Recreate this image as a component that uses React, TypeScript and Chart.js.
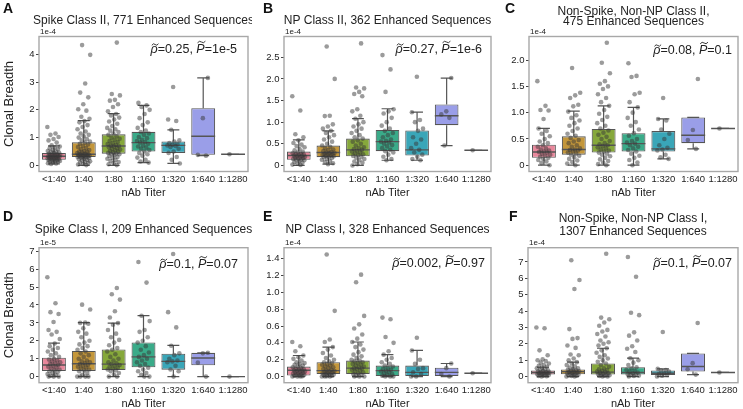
import React, { useEffect, useRef } from 'react';
import { Chart, registerables } from 'chart.js';
Chart.register(...registerables);

const FAM = '"Liberation Sans", Arial, Helvetica, sans-serif';
Chart.defaults.font.family = FAM;

// ---------- shared data ----------
const CATEGORIES = ['<1:40', '1:40', '1:80', '1:160', '1:320', '1:640', '1:1280'];
const Y_TITLE = 'Clonal Breadth';
const X_TITLE = 'nAb Titer';

// ---------- Panel A ----------
const A_TITLE = ['Spike Class II, 771 Enhanced Sequences'];
const A_EXP = '1e-4';
const A_RHO = '0.25';
const A_P = '1e-5';
const A_TICKS = [0, 1, 2, 3, 4];
const A_TICK_LABELS = ['0', '1', '2', '3', '4'];
const A_RANGE = [-0.22, 4.64];
const A_Q1 = [0.2, 0.3, 0.42, 0.5, 0.45, 0.38, 0.4];
const A_MED = [0.33, 0.4, 0.7, 0.82, 0.72, 1.05, 0.4];
const A_Q3 = [0.45, 0.83, 1.12, 1.21, 0.86, 2.06, 0.4];
const A_LO = [0.05, 0.0, 0.0, 0.1, 0.07, 0.35, 0.4];
const A_HI = [0.7, 1.61, 1.86, 2.16, 1.28, 3.15, 0.4];
const A_PTS = [
  [1.38, 1.15, 1.1, 1.02, 0.95, 0.9, 0.82, 0.72, 0.68, 0.65, 0.62, 0.58, 0.55, 0.52, 0.5, 0.48, 0.46, 0.44, 0.42, 0.41, 0.4, 0.38, 0.37, 0.36, 0.35, 0.34, 0.33, 0.32, 0.31, 0.3, 0.29, 0.28, 0.27, 0.26, 0.25, 0.24, 0.23, 0.22, 0.21, 0.2, 0.19, 0.18, 0.16, 0.15, 0.13, 0.12, 0.1, 0.08, 0.07, 0.05],
  [4.33, 3.98, 2.95, 2.62, 2.45, 2.2, 2.02, 1.97, 1.75, 1.68, 1.6, 1.55, 1.45, 1.38, 1.3, 1.22, 1.15, 1.1, 1.05, 1.0, 0.95, 0.9, 0.86, 0.82, 0.78, 0.75, 0.7, 0.66, 0.62, 0.58, 0.55, 0.52, 0.5, 0.48, 0.46, 0.44, 0.42, 0.41, 0.4, 0.39, 0.38, 0.37, 0.36, 0.35, 0.34, 0.33, 0.32, 0.31, 0.3, 0.29, 0.28, 0.26, 0.24, 0.22, 0.2, 0.18, 0.15, 0.12, 0.1, 0.08, 0.05, 0.03, 0.01],
  [4.42, 2.57, 2.52, 2.36, 2.33, 2.2, 2.1, 1.95, 1.85, 1.8, 1.72, 1.65, 1.58, 1.5, 1.42, 1.35, 1.3, 1.25, 1.2, 1.15, 1.1, 1.05, 1.0, 0.96, 0.92, 0.88, 0.84, 0.8, 0.77, 0.74, 0.71, 0.7, 0.68, 0.65, 0.62, 0.6, 0.57, 0.54, 0.52, 0.5, 0.47, 0.45, 0.43, 0.42, 0.4, 0.37, 0.34, 0.3, 0.27, 0.24, 0.2, 0.16, 0.12, 0.08, 0.04, 0.01],
  [2.25, 2.16, 2.1, 2.0, 1.85, 1.7, 1.55, 1.45, 1.35, 1.25, 1.2, 1.15, 1.1, 1.02, 0.98, 0.92, 0.88, 0.84, 0.82, 0.78, 0.72, 0.68, 0.64, 0.6, 0.55, 0.5, 0.45, 0.4, 0.35, 0.28, 0.2, 0.14, 0.1],
  [2.82, 1.65, 1.6, 1.28, 0.9, 0.86, 0.8, 0.76, 0.74, 0.72, 0.7, 0.66, 0.6, 0.5, 0.45, 0.3, 0.2, 0.07],
  [3.15, 1.7, 0.38, 0.35],
  [0.4],
];

// ---------- Panel B ----------
const B_TITLE = ['NP Class II, 362 Enhanced Sequences'];
const B_EXP = '1e-4';
const B_RHO = '0.27';
const B_P = '1e-6';
const B_TICKS = [0, 0.5, 1, 1.5, 2, 2.5];
const B_TICK_LABELS = ['0', '0.5', '1.0', '1.5', '2.0', '2.5'];
const B_RANGE = [-0.14, 2.98];
const B_Q1 = [0.13, 0.19, 0.21, 0.33, 0.23, 0.93, 0.35];
const B_MED = [0.23, 0.3, 0.36, 0.55, 0.36, 1.15, 0.35];
const B_Q3 = [0.32, 0.46, 0.62, 0.82, 0.81, 1.41, 0.35];
const B_LO = [0.0, 0.03, 0.0, 0.12, 0.12, 0.46, 0.35];
const B_HI = [0.59, 0.8, 1.08, 1.31, 1.23, 2.02, 0.35];
const B_PTS = [
  [1.6, 1.27, 0.72, 0.65, 0.58, 0.52, 0.48, 0.45, 0.42, 0.38, 0.35, 0.32, 0.3, 0.28, 0.27, 0.26, 0.25, 0.24, 0.23, 0.22, 0.21, 0.2, 0.19, 0.18, 0.17, 0.16, 0.15, 0.14, 0.13, 0.12, 0.1, 0.08, 0.06, 0.04, 0.02, 0.01],
  [2.75, 2.0, 1.15, 1.14, 0.95, 0.9, 0.85, 0.8, 0.75, 0.7, 0.65, 0.6, 0.55, 0.5, 0.46, 0.43, 0.4, 0.37, 0.35, 0.33, 0.31, 0.3, 0.29, 0.28, 0.27, 0.26, 0.25, 0.24, 0.23, 0.22, 0.21, 0.2, 0.19, 0.17, 0.15, 0.13, 0.1, 0.08, 0.05, 0.03],
  [2.82, 1.8, 1.78, 1.7, 1.65, 1.6, 1.3, 1.25, 1.15, 1.08, 1.0, 0.95, 0.9, 0.85, 0.8, 0.75, 0.7, 0.65, 0.62, 0.58, 0.55, 0.5, 0.46, 0.42, 0.4, 0.38, 0.36, 0.34, 0.32, 0.3, 0.28, 0.26, 0.24, 0.22, 0.2, 0.18, 0.15, 0.12, 0.09, 0.06, 0.03, 0.0],
  [2.55, 2.22, 1.7, 1.3, 1.25, 1.2, 1.1, 1.0, 0.92, 0.85, 0.8, 0.75, 0.7, 0.65, 0.6, 0.57, 0.55, 0.53, 0.5, 0.47, 0.44, 0.4, 0.36, 0.33, 0.3, 0.25, 0.2, 0.15, 0.12],
  [2.05, 1.23, 1.05, 1.0, 0.85, 0.8, 0.65, 0.6, 0.5, 0.4, 0.36, 0.3, 0.25, 0.2, 0.15, 0.12],
  [2.02, 1.25, 1.18, 1.1, 0.46],
  [0.35],
];

// ---------- Panel C ----------
const C_TITLE = ['Non-Spike, Non-NP Class II,', '475 Enhanced Sequences'];
const C_EXP = '1e-4';
const C_RHO = '0.08';
const C_P = '0.1';
const C_TICKS = [0, 0.5, 1, 1.5, 2];
const C_TICK_LABELS = ['0', '0.5', '1.0', '1.5', '2.0'];
const C_RANGE = [-0.12, 2.45];
const C_Q1 = [0.14, 0.2, 0.24, 0.26, 0.26, 0.42, 0.7];
const C_MED = [0.25, 0.3, 0.38, 0.41, 0.31, 0.57, 0.7];
const C_Q3 = [0.39, 0.55, 0.69, 0.61, 0.65, 0.91, 0.7];
const C_LO = [0.0, 0.0, 0.0, 0.0, 0.12, 0.31, 0.7];
const C_HI = [0.7, 1.03, 1.13, 1.1, 0.88, 0.91, 0.7];
const C_PTS = [
  [1.6, 1.13, 1.05, 1.04, 0.88, 0.7, 0.65, 0.6, 0.55, 0.5, 0.45, 0.42, 0.38, 0.35, 0.32, 0.3, 0.28, 0.26, 0.25, 0.24, 0.22, 0.2, 0.18, 0.16, 0.14, 0.12, 0.1, 0.07, 0.04, 0.0],
  [1.85, 1.38, 1.33, 1.28, 1.15, 1.12, 1.02, 0.95, 0.9, 0.85, 0.8, 0.75, 0.7, 0.65, 0.6, 0.56, 0.52, 0.48, 0.45, 0.42, 0.38, 0.35, 0.32, 0.3, 0.29, 0.28, 0.26, 0.24, 0.22, 0.2, 0.18, 0.15, 0.12, 0.09, 0.06, 0.03, 0.0],
  [2.33, 1.95, 1.75, 1.6, 1.55, 1.5, 1.45, 1.35, 1.28, 1.2, 1.13, 1.05, 0.98, 0.92, 0.86, 0.8, 0.75, 0.7, 0.66, 0.62, 0.58, 0.54, 0.5, 0.46, 0.42, 0.4, 0.38, 0.36, 0.34, 0.32, 0.3, 0.28, 0.26, 0.24, 0.22, 0.2, 0.17, 0.14, 0.11, 0.08, 0.05, 0.02, 0.0],
  [1.94, 1.7, 1.68, 1.38, 1.35, 1.2, 1.1, 1.0, 0.9, 0.82, 0.75, 0.68, 0.61, 0.56, 0.5, 0.46, 0.43, 0.41, 0.38, 0.35, 0.32, 0.29, 0.26, 0.22, 0.18, 0.14, 0.1, 0.05, 0.0],
  [1.28, 0.88, 0.85, 0.68, 0.6, 0.5, 0.38, 0.33, 0.3, 0.28, 0.2, 0.15, 0.12],
  [1.64, 0.67, 0.48, 0.31],
  [0.7],
];

// ---------- Panel D ----------
const D_TITLE = ['Spike Class I, 209 Enhanced Sequences'];
const D_EXP = '1e-5';
const D_RHO = '0.1';
const D_P = '0.07';
const D_TICKS = [0, 1, 2, 3, 4, 5, 6, 7];
const D_TICK_LABELS = ['0', '1', '2', '3', '4', '5', '6', '7'];
const D_RANGE = [-0.34, 7.2];
const D_Q1 = [0.32, 0.32, 0.37, 0.52, 0.39, 0.63, 0.0];
const D_MED = [0.65, 0.72, 0.7, 1.1, 0.85, 1.04, 0.0];
const D_Q3 = [1.06, 1.43, 1.52, 1.91, 1.28, 1.33, 0.0];
const D_LO = [0.0, 0.0, 0.0, 0.0, 0.0, 0.0, 0.0];
const D_HI = [1.87, 3.02, 2.99, 3.41, 1.74, 1.33, 0.0];
const D_PTS = [
  [5.55, 4.1, 3.6, 3.5, 3.05, 2.6, 2.5, 2.35, 2.1, 1.85, 1.7, 1.6, 1.5, 1.4, 1.3, 1.2, 1.1, 1.0, 0.95, 0.9, 0.85, 0.8, 0.75, 0.7, 0.65, 0.6, 0.55, 0.5, 0.45, 0.4, 0.35, 0.3, 0.25, 0.2, 0.15, 0.1, 0.05, 0.0, 0.0, 0.0],
  [4.02, 3.75, 3.02, 3.0, 2.95, 2.7, 2.5, 2.4, 2.2, 2.0, 1.9, 1.8, 1.7, 1.6, 1.5, 1.4, 1.3, 1.2, 1.1, 1.0, 0.9, 0.85, 0.8, 0.75, 0.7, 0.65, 0.6, 0.55, 0.5, 0.45, 0.4, 0.35, 0.3, 0.2, 0.1, 0.0, 0.0, 0.0, 0.0],
  [4.95, 4.6, 4.3, 3.65, 3.3, 2.99, 2.9, 2.6, 2.4, 2.2, 2.05, 1.9, 1.75, 1.6, 1.5, 1.4, 1.25, 1.1, 1.0, 0.9, 0.8, 0.75, 0.7, 0.65, 0.6, 0.55, 0.5, 0.45, 0.4, 0.35, 0.3, 0.2, 0.1, 0.0, 0.0],
  [6.4, 5.25, 3.4, 3.1, 2.6, 2.5, 2.2, 2.0, 1.9, 1.7, 1.5, 1.35, 1.2, 1.1, 1.0, 0.9, 0.8, 0.7, 0.6, 0.5, 0.4, 0.3, 0.2, 0.1, 0.0, 0.0],
  [6.85, 3.6, 2.75, 1.72, 1.3, 1.2, 1.0, 0.9, 0.85, 0.8, 0.6, 0.4, 0.3, 0.0],
  [1.33, 1.3, 0.78, 0.0],
  [0.0],
];

// ---------- Panel E ----------
const E_TITLE = ['NP Class I, 328 Enhanced Sequences'];
const E_EXP = '1e-4';
const E_RHO = '0.002';
const E_P = '0.97';
const E_TICKS = [0, 0.2, 0.4, 0.6, 0.8, 1.0, 1.2, 1.4];
const E_TICK_LABELS = ['0.0', '0.2', '0.4', '0.6', '0.8', '1.0', '1.2', '1.4'];
const E_RANGE = [-0.073, 1.53];
const E_Q1 = [0.012, 0.03, 0.03, 0.0, 0.0, 0.0, 0.04];
const E_MED = [0.075, 0.07, 0.1, 0.07, 0.05, 0.05, 0.04];
const E_Q3 = [0.118, 0.17, 0.19, 0.13, 0.13, 0.105, 0.04];
const E_LO = [0.0, 0.0, 0.0, 0.0, 0.0, 0.0, 0.04];
const E_HI = [0.25, 0.35, 0.41, 0.26, 0.31, 0.155, 0.04];
const E_PTS = [
  [0.41, 0.36, 0.3, 0.25, 0.23, 0.21, 0.19, 0.17, 0.16, 0.15, 0.14, 0.13, 0.12, 0.11, 0.1, 0.09, 0.085, 0.08, 0.075, 0.07, 0.065, 0.06, 0.055, 0.05, 0.045, 0.04, 0.035, 0.03, 0.025, 0.02, 0.015, 0.01, 0.005, 0.0, 0.0, 0.0],
  [1.45, 0.78, 0.44, 0.41, 0.35, 0.32, 0.28, 0.25, 0.22, 0.2, 0.18, 0.17, 0.16, 0.15, 0.14, 0.13, 0.12, 0.11, 0.1, 0.09, 0.08, 0.07, 0.065, 0.06, 0.055, 0.05, 0.045, 0.04, 0.035, 0.03, 0.025, 0.02, 0.015, 0.01, 0.005, 0.0, 0.0, 0.0],
  [1.21, 1.12, 0.72, 0.62, 0.57, 0.5, 0.45, 0.41, 0.38, 0.35, 0.32, 0.29, 0.26, 0.24, 0.22, 0.2, 0.19, 0.18, 0.17, 0.16, 0.15, 0.14, 0.13, 0.12, 0.11, 0.1, 0.095, 0.09, 0.08, 0.07, 0.06, 0.05, 0.04, 0.03, 0.02, 0.01, 0.0, 0.0, 0.0],
  [0.7, 0.68, 0.47, 0.4, 0.3, 0.26, 0.22, 0.2, 0.17, 0.15, 0.13, 0.12, 0.1, 0.09, 0.08, 0.07, 0.06, 0.05, 0.04, 0.03, 0.02, 0.01, 0.0, 0.0, 0.0],
  [0.46, 0.31, 0.2, 0.15, 0.1, 0.09, 0.05, 0.03, 0.0, 0.0],
  [0.155, 0.1, 0.03, 0.0],
  [0.04],
];

// ---------- Panel F ----------
const F_TITLE = ['Non-Spike, Non-NP Class I,', '1307 Enhanced Sequences'];
const F_EXP = '1e-4';
const F_RHO = '0.1';
const F_P = '0.07';
const F_TICKS = [0, 1, 2, 3, 4, 5, 6, 7];
const F_TICK_LABELS = ['0', '1', '2', '3', '4', '5', '6', '7'];
const F_RANGE = [-0.375, 7.87];
const F_Q1 = [0.12, 0.14, 0.12, 0.12, 0.1, 0.31, 0.25];
const F_MED = [0.25, 0.3, 0.27, 0.25, 0.2, 0.61, 0.25];
const F_Q3 = [0.37, 0.43, 0.8, 0.57, 0.37, 1.41, 0.25];
const F_LO = [0.0, 0.0, 0.0, 0.0, 0.0, 0.12, 0.25];
const F_HI = [0.57, 0.88, 1.73, 1.12, 0.47, 1.41, 0.25];
const F_PTS = [
  [3.0, 2.95, 1.6, 1.3, 1.05, 1.0, 0.95, 0.85, 0.8, 0.7, 0.65, 0.6, 0.55, 0.5, 0.45, 0.4, 0.37, 0.34, 0.31, 0.28, 0.26, 0.24, 0.22, 0.2, 0.18, 0.16, 0.14, 0.12, 0.1, 0.08, 0.06, 0.04, 0.02, 0.0],
  [7.1, 5.9, 5.35, 2.9, 2.35, 2.3, 1.9, 1.75, 1.35, 1.3, 1.1, 1.0, 0.88, 0.8, 0.7, 0.62, 0.55, 0.5, 0.45, 0.42, 0.38, 0.35, 0.32, 0.3, 0.28, 0.25, 0.22, 0.2, 0.18, 0.15, 0.12, 0.1, 0.08, 0.05, 0.03, 0.0, 0.0],
  [7.5, 3.6, 3.5, 3.3, 3.1, 2.85, 2.75, 2.6, 2.45, 2.2, 2.1, 2.0, 1.9, 1.73, 1.6, 1.45, 1.3, 1.2, 1.1, 1.0, 0.9, 0.8, 0.7, 0.6, 0.5, 0.45, 0.4, 0.35, 0.3, 0.27, 0.24, 0.2, 0.17, 0.14, 0.12, 0.1, 0.08, 0.05, 0.03, 0.0, 0.0],
  [7.3, 6.1, 3.9, 3.75, 2.7, 2.5, 2.2, 1.85, 1.7, 1.5, 1.12, 1.0, 0.85, 0.7, 0.57, 0.5, 0.42, 0.35, 0.3, 0.25, 0.2, 0.15, 0.12, 0.1, 0.06, 0.03, 0.0],
  [2.72, 0.47, 0.4, 0.37, 0.3, 0.2, 0.15, 0.1, 0.05, 0.0],
  [3.27, 0.82, 0.45, 0.12],
  [0.25],
];

// ---------- styles ----------
const BOX_COLORS = ['#e8879b', '#c4973b', '#86a83b', '#3aab89', '#3aa6b8', '#9a9ee8', '#c98ad8'];
const EDGE = '#555555';
const POINT_COLOR = 'rgba(55,55,55,0.5)';
const FRAME = '#a8a8a8';
const TEXT = '#222222';
const BOX_HALF = 0.4;
const CAP_HALF = 0.2;
const JITTER = 0.44;

type Panel = {
  id: string; letter: string; left: number; top: number; w: number; h: number;
  L: number; R: number; T: number; B: number;
  title: string[]; titleY: number[]; exp: string; rho: string; p: string;
  annoDX: number; annoDY: number;
  ticks: number[]; tickLabels: string[]; range: number[];
  q1: number[]; med: number[]; q3: number[]; lo: number[]; hi: number[]; pts: number[][];
  yTitle: boolean; xTitlePad: number; letterX: number; letterY: number;
};

const PANELS: Panel[] = [
  { id: 'A', letter: 'A', left: 0, top: 0, w: 252, h: 205, L: 39, R: 248, T: 36.5, B: 171.5,
    title: A_TITLE, titleY: [21], exp: A_EXP, rho: A_RHO, p: A_P, annoDX: 11, annoDY: 13,
    ticks: A_TICKS, tickLabels: A_TICK_LABELS, range: A_RANGE,
    q1: A_Q1, med: A_MED, q3: A_Q3, lo: A_LO, hi: A_HI, pts: A_PTS, yTitle: true, xTitlePad: 6.3, letterX: 3, letterY: 1 },
  { id: 'B', letter: 'B', left: 252, top: 0, w: 243, h: 205, L: 32, R: 240, T: 36.5, B: 171.5,
    title: B_TITLE, titleY: [21], exp: B_EXP, rho: B_RHO, p: B_P, annoDX: 9, annoDY: 13,
    ticks: B_TICKS, tickLabels: B_TICK_LABELS, range: B_RANGE,
    q1: B_Q1, med: B_MED, q3: B_Q3, lo: B_LO, hi: B_HI, pts: B_PTS, yTitle: false, xTitlePad: 6.3, letterX: 263, letterY: 1 },
  { id: 'C', letter: 'C', left: 495, top: 0, w: 248, h: 205, L: 34, R: 243, T: 36.5, B: 171.5,
    title: C_TITLE, titleY: [11.7, 21.2], exp: C_EXP, rho: C_RHO, p: C_P, annoDX: 6, annoDY: 14,
    ticks: C_TICKS, tickLabels: C_TICK_LABELS, range: C_RANGE,
    q1: C_Q1, med: C_MED, q3: C_Q3, lo: C_LO, hi: C_HI, pts: C_PTS, yTitle: false, xTitlePad: 6.3, letterX: 505, letterY: 1 },
  { id: 'D', letter: 'D', left: 0, top: 205, w: 252, h: 204, L: 39, R: 248, T: 42.7, B: 177.7,
    title: D_TITLE, titleY: [25], exp: D_EXP, rho: D_RHO, p: D_P, annoDX: 10, annoDY: 17,
    ticks: D_TICKS, tickLabels: D_TICK_LABELS, range: D_RANGE,
    q1: D_Q1, med: D_MED, q3: D_Q3, lo: D_LO, hi: D_HI, pts: D_PTS, yTitle: true, xTitlePad: 0, letterX: 3, letterY: 209 },
  { id: 'E', letter: 'E', left: 252, top: 205, w: 243, h: 204, L: 32, R: 240, T: 42.7, B: 177.7,
    title: E_TITLE, titleY: [25], exp: E_EXP, rho: E_RHO, p: E_P, annoDX: 6, annoDY: 16,
    ticks: E_TICKS, tickLabels: E_TICK_LABELS, range: E_RANGE,
    q1: E_Q1, med: E_MED, q3: E_Q3, lo: E_LO, hi: E_HI, pts: E_PTS, yTitle: false, xTitlePad: 0, letterX: 263, letterY: 209 },
  { id: 'F', letter: 'F', left: 495, top: 205, w: 248, h: 204, L: 33, R: 243, T: 42.7, B: 177.7,
    title: F_TITLE, titleY: [13.3, 26.7], exp: F_EXP, rho: F_RHO, p: F_P, annoDX: 6, annoDY: 16,
    ticks: F_TICKS, tickLabels: F_TICK_LABELS, range: F_RANGE,
    q1: F_Q1, med: F_MED, q3: F_Q3, lo: F_LO, hi: F_HI, pts: F_PTS, yTitle: false, xTitlePad: 0, letterX: 509, letterY: 209 },
];

function jitter(k: number, c: number) {
  const f = (k * 0.6180339887 + c * 0.371) % 1;
  return (f - 0.5) * JITTER;
}

function drawTilde(ctx: CanvasRenderingContext2D, x: number, w: number, y: number) {
  ctx.beginPath();
  ctx.moveTo(x, y + 0.8);
  ctx.quadraticCurveTo(x + w * 0.25, y - 1.8, x + w * 0.5, y);
  ctx.quadraticCurveTo(x + w * 0.75, y + 1.8, x + w, y - 0.8);
  ctx.lineWidth = 0.9;
  ctx.strokeStyle = TEXT;
  ctx.stroke();
}

function drawAnno(ctx: CanvasRenderingContext2D, right: number, y: number, rho: string, p: string) {
  const fs = 12.5;
  const parts = [
    { t: '\u03C1', it: true, tilde: -5 },
    { t: '=' + rho + ', ', it: false, tilde: 0 },
    { t: 'P', it: true, tilde: -7.5 },
    { t: '=' + p, it: false, tilde: 0 },
  ];
  const widths = parts.map((pt) => {
    ctx.font = (pt.it ? 'italic ' : '') + fs + 'px ' + FAM;
    return ctx.measureText(pt.t).width;
  });
  const total = widths.reduce((a, b) => a + b, 0);
  let x = right - total;
  ctx.textAlign = 'left';
  ctx.textBaseline = 'middle';
  ctx.fillStyle = TEXT;
  parts.forEach((pt, i) => {
    ctx.font = (pt.it ? 'italic ' : '') + fs + 'px ' + FAM;
    ctx.fillText(pt.t, x, y);
    if (pt.tilde) drawTilde(ctx, x + 1.2, widths[i] - 0.5, y + pt.tilde);
    x += widths[i];
  });
}

function makeConfig(p: Panel): any {
  const n = CATEGORIES.length;
  const boxData = p.q1.map((q, i) => ({ x: i, y: [p.q1[i], p.q3[i]] }));
  const whisk: any[] = [];
  const meds: any[] = [];
  for (let i = 0; i < n; i++) {
    whisk.push({ x: i, y: p.q3[i] }, { x: i, y: p.hi[i] }, { x: i, y: null });
    whisk.push({ x: i, y: p.q1[i] }, { x: i, y: p.lo[i] }, { x: i, y: null });
    whisk.push({ x: i - CAP_HALF, y: p.hi[i] }, { x: i + CAP_HALF, y: p.hi[i] }, { x: i, y: null });
    whisk.push({ x: i - CAP_HALF, y: p.lo[i] }, { x: i + CAP_HALF, y: p.lo[i] }, { x: i, y: null });
    meds.push({ x: i - BOX_HALF, y: p.med[i] }, { x: i + BOX_HALF, y: p.med[i] }, { x: i, y: null });
  }
  const pts: any[] = [];
  p.pts.forEach((arr, c) => arr.forEach((v, k) => pts.push({ x: c + jitter(k, c), y: v })));

  const textPlugin = {
    id: 'panelText' + p.id,
    afterDraw(chart: any) {
      const { ctx, chartArea } = chart;
      const { left, right, top, bottom } = chartArea;
      ctx.save();
      ctx.strokeStyle = FRAME;
      ctx.lineWidth = 1.4;
      ctx.strokeRect(left, top, right - left, bottom - top);
      ctx.fillStyle = TEXT;
      ctx.font = '8px ' + FAM;
      ctx.textAlign = 'left';
      ctx.textBaseline = 'middle';
      ctx.fillText(p.exp, left + 1, top - 4.5);
      ctx.font = '12px ' + FAM;
      ctx.textAlign = 'center';
      p.title.forEach((line, k) => ctx.fillText(line, (left + right) / 2, p.titleY[k]));
      drawAnno(ctx, right - p.annoDX, top + p.annoDY, p.rho, p.p);
      ctx.restore();
    },
  };

  return {
    type: 'bar',
    data: {
      datasets: [
        { type: 'scatter', data: pts, backgroundColor: POINT_COLOR, borderWidth: 0, pointRadius: 2.3, order: 1 },
        { type: 'line', data: meds, borderColor: EDGE, borderWidth: 1.4, pointRadius: 0, spanGaps: false, fill: false, order: 2 },
        { type: 'line', data: whisk, borderColor: EDGE, borderWidth: 1.2, pointRadius: 0, spanGaps: false, fill: false, order: 2 },
        { type: 'bar', data: boxData, backgroundColor: BOX_COLORS, borderColor: EDGE, borderWidth: 1.1,
          borderSkipped: false, barPercentage: 0.8, categoryPercentage: 1, grouped: false, order: 3 },
      ],
    },
    options: {
      responsive: false,
      animation: false,
      events: [],
      layout: { padding: { top: p.T, right: p.w - p.R, bottom: 0, left: 0 } },
      plugins: { legend: { display: false }, tooltip: { enabled: false }, title: { display: false } },
      scales: {
        x: {
          type: 'linear', min: -0.5, max: 6.5, offset: false,
          afterBuildTicks: (s: any) => { s.ticks = CATEGORIES.map((_, i) => ({ value: i })); },
          afterFit: (s: any) => { s.height = p.h - p.B; },
          ticks: { callback: (_v: any, i: number) => CATEGORIES[i], font: { size: 9.5 }, color: TEXT, padding: 2, maxRotation: 0, autoSkip: false },
          grid: { display: false, drawTicks: false, offset: false },
          border: { display: false },
          title: { display: true, text: X_TITLE, font: { size: 11, lineHeight: 1 }, color: TEXT, padding: { top: 0, bottom: p.xTitlePad } },
        },
        y: {
          type: 'linear', min: p.range[0], max: p.range[1],
          afterBuildTicks: (s: any) => { s.ticks = p.ticks.map((v) => ({ value: v })); },
          afterFit: (s: any) => { s.width = p.L; },
          ticks: { callback: (_v: any, i: number) => p.tickLabels[i], font: { size: 9.5 }, color: TEXT, padding: 1.5, autoSkip: false },
          grid: { display: true, drawOnChartArea: false, drawTicks: true, tickLength: 3, color: '#444444', lineWidth: 1 },
          border: { display: false },
          title: { display: p.yTitle, text: Y_TITLE, font: { size: 13, lineHeight: 1 }, color: TEXT, padding: { top: 3, bottom: 0 } },
        },
      },
    },
    plugins: [textPlugin],
  };
}

function PanelChart({ p }: { p: Panel }) {
  const ref = useRef<HTMLCanvasElement>(null);
  useEffect(() => {
    const chart = new Chart(ref.current as HTMLCanvasElement, makeConfig(p));
    return () => chart.destroy();
  }, []);
  return (
    <canvas ref={ref} width={p.w} height={p.h}
      style={{ position: 'absolute', left: p.left, top: p.top, width: p.w, height: p.h }} />
  );
}

export default function App() {
  return (
    <div style={{ position: 'fixed', left: 0, top: 0, width: 743, height: 409, background: '#ffffff', overflow: 'hidden' }}>
      {PANELS.map((p) => <PanelChart key={p.id} p={p} />)}
      {PANELS.map((p) => (
        <div key={'l' + p.id} style={{ position: 'absolute', left: p.letterX, top: p.letterY, font: 'bold 14px ' + FAM, lineHeight: '14px', color: '#111' }}>
          {p.letter}
        </div>
      ))}
    </div>
  );
}
